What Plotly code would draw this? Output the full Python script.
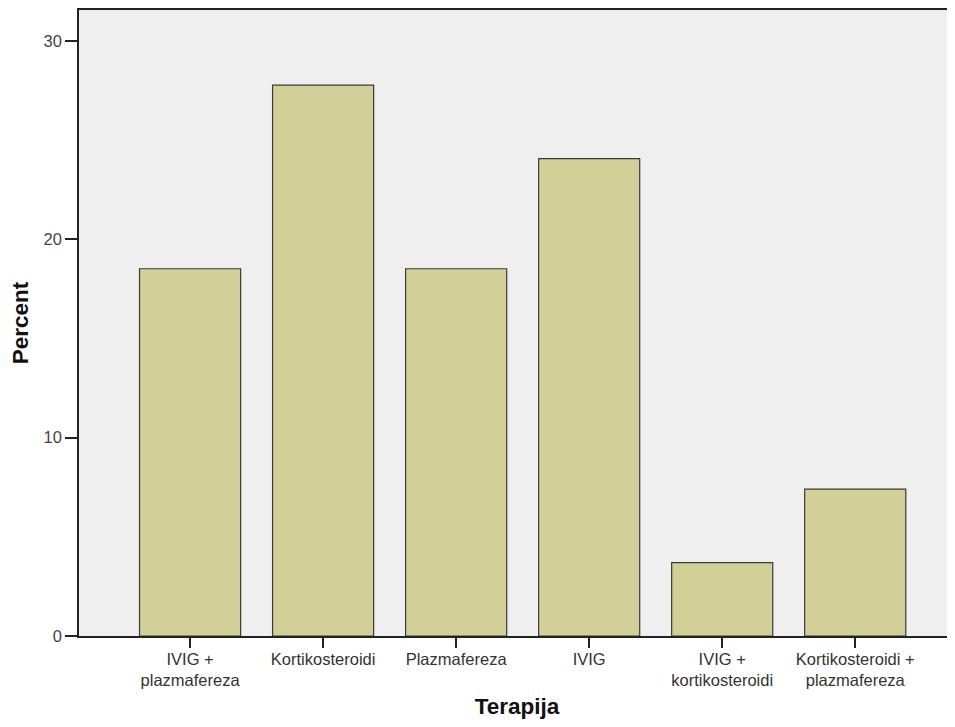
import plotly.graph_objects as go

categories = ["IVIG +<br>plazmafereza", "Kortikosteroidi", "Plazmafereza", "IVIG",
              "IVIG +<br>kortikosteroidi", "Kortikosteroidi +<br>plazmafereza"]
percent = [18.52, 27.78, 18.52, 24.07, 3.70, 7.41]
y_ticks = [0, 10, 20, 30]

font_family = "Liberation Sans, Arial, sans-serif"

fig = go.Figure(go.Bar(
    x=categories, y=percent,
    marker=dict(color="#d3cf99", line=dict(color="#3a3a3a", width=1.2)),
    width=0.76,
))

fig.update_layout(
    width=947, height=711,
    margin=dict(l=71, r=0, t=2, b=83),
    paper_bgcolor="white", plot_bgcolor="#efefef",
    font=dict(family=font_family, color="#333333", size=16.5),
    showlegend=False,
    xaxis=dict(
        range=[-0.835, 5.75], showgrid=False, zeroline=False,
        showline=True, linecolor="#222222", linewidth=1.5, mirror=True,
        ticks="outside", ticklen=10, tickwidth=2, tickcolor="#222222",
        ticklabelstandoff=-3,
        tickfont=dict(size=16.5, color="#333333"),
        title=dict(text="<b>Terapija</b>", font=dict(size=22.5, color="#111111"), standoff=12),
    ),
    yaxis=dict(
        range=[0, 31.57], tickvals=y_ticks, showgrid=False, zeroline=False,
        showline=True, linecolor="#222222", linewidth=1.5,
        ticks="outside", ticklen=12, tickwidth=2, tickcolor="#222222",
        tickfont=dict(size=16.5, color="#444444"),
        title=dict(text="<b>Percent</b>", font=dict(size=22.5, color="#111111"), standoff=17),
    ),
)

fig.write_html("out.html")
